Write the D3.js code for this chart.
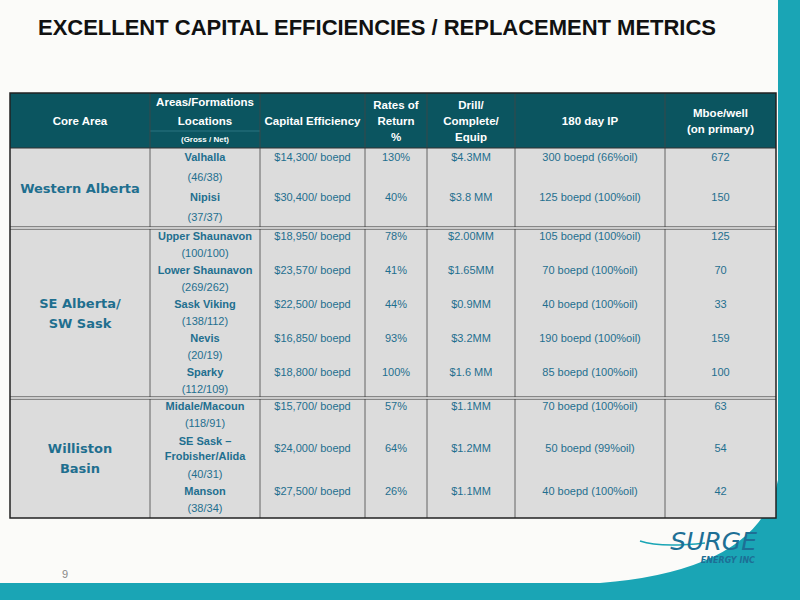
<!DOCTYPE html>
<html><head><meta charset="utf-8">
<script src="https://cdn.jsdelivr.net/npm/d3@7"></script>
<style>body{margin:0;background:#fff}svg{display:block}</style>
</head><body><svg id="c" width="800" height="600"></svg>
<script>
const title = "EXCELLENT CAPITAL EFFICIENCIES / REPLACEMENT METRICS";
const headers = ["Core Area","Areas/Formations","Capital Efficiency","Rates of\nReturn\n%","Drill/\nComplete/\nEquip","180 day IP","Mboe/well\n(on primary)"];
const groups = ["Western Alberta","SE Alberta/\nSW Sask","Williston\nBasin"];
const formations = ["Valhalla","Nipisi","Upper Shaunavon","Lower Shaunavon","Sask Viking","Nevis","Sparky","Midale/Macoun","SE Sask –\nFrobisher/Alida","Manson"];
const formGroup = [0,0,1,1,1,1,1,2,2,2];
const locations = ["(46/38)","(37/37)","(100/100)","(269/262)","(138/112)","(20/19)","(112/109)","(118/91)","(40/31)","(38/34)"];
const capEff = ["$14,300/ boepd","$30,400/ boepd","$18,950/ boepd","$23,570/ boepd","$22,500/ boepd","$16,850/ boepd","$18,800/ boepd","$15,700/ boepd","$24,000/ boepd","$27,500/ boepd"];
const ror = ["130%","40%","78%","41%","44%","93%","100%","57%","64%","26%"];
const dce = ["$4.3MM","$3.8 MM","$2.00MM","$1.65MM","$0.9MM","$3.2MM","$1.6 MM","$1.1MM","$1.2MM","$1.1MM"];
const ip = ["300 boepd (66%oil)","125 boepd (100%oil)","105 boepd (100%oil)","70 boepd (100%oil)","40 boepd (100%oil)","190 boepd (100%oil)","85 boepd (100%oil)","70 boepd (100%oil)","50 boepd (99%oil)","40 boepd (100%oil)"];
const mboe = [672,150,125,70,33,159,100,63,54,42];
// line slots per group (formation line start, line count, location line)
const formLine = [0,2,0,2,4,6,8,0,2,5];
const formSpan = [1,1,1,1,1,1,1,1,2,1];
const locLine = [1,3,1,3,5,7,9,1,4,6];
const groupLines = [4,10,7];

const svg = d3.select("#c");
const teal="#0b5560", txt="#1f6f8f", bright="#1aa5b5";
svg.append("rect").attr("width",800).attr("height",600).attr("fill","#fbfbf9");
svg.append("path").attr("d","M778,0 L800,0 L800,583 L600,583 Q760,570 778,480 Z").attr("fill",bright);
svg.append("rect").attr("x",0).attr("y",583).attr("width",800).attr("height",17).attr("fill",bright);
svg.append("text").attr("x",377).attr("y",35).attr("text-anchor","middle").attr("font-family","Liberation Sans, Arial").attr("font-weight","bold").attr("font-size",22).attr("textLength",678).attr("fill","#111").text(title);
svg.append("text").attr("x",62).attr("y",578).attr("font-family","Liberation Sans").attr("font-size",11).attr("fill","#888").text("9");

const colEdges=[10,150,260,365,427,515,665,776];
const cx = i => (colEdges[i]+colEdges[i+1])/2;
const hTop=93, hBot=148;
const gEdges=[148,228,398,518];
const F="Liberation Sans, Arial, sans-serif";

svg.append("rect").attr("x",10).attr("y",hBot).attr("width",766).attr("height",518-hBot).attr("fill","#dcdcdc");
svg.append("rect").attr("x",10).attr("y",hTop).attr("width",766).attr("height",hBot-hTop).attr("fill",teal);
headers.forEach((h,i)=>{
  const lines=h.split("\n");
  const t=svg.append("text").attr("text-anchor","middle").attr("font-family",F).attr("font-weight","bold").attr("font-size",11.5).attr("fill","#fff");
  if(i===1){
    t.attr("x",cx(1)).attr("y",106).text("Areas/Formations");
    svg.append("text").attr("x",cx(1)).attr("y",125).attr("text-anchor","middle").attr("font-family",F).attr("font-weight","bold").attr("font-size",11.5).attr("fill","#fff").text("Locations");
    svg.append("text").attr("x",cx(1)).attr("y",142).attr("text-anchor","middle").attr("font-family",F).attr("font-weight","bold").attr("font-size",8).attr("fill","#fff").text("(Gross / Net)");
    svg.append("line").attr("x1",150).attr("x2",260).attr("y1",131).attr("y2",131).attr("stroke","#2a7580");
    return;
  }
  const y0=(hTop+hBot)/2-(lines.length-1)*8+4;
  lines.forEach((l,k)=>t.append("tspan").attr("x",cx(i)).attr("y",y0+k*16).text(l));
});

groups.forEach((g,gi)=>{
  const y=d3.scaleLinear().domain([0,groupLines[gi]]).range([gEdges[gi],gEdges[gi+1]]);
  const lines=g.split("\n");
  const mid=(gEdges[gi]+gEdges[gi+1])/2;
  const t=svg.append("text").attr("text-anchor","middle").attr("font-family","DejaVu Sans, sans-serif").attr("font-weight","bold").attr("font-size",13).attr("fill",txt);
  lines.forEach((l,k)=>t.append("tspan").attr("x",cx(0)).attr("y",mid+5-(lines.length-1)*10+k*20).text(l));
  formations.forEach((f,fi)=>{
    if(formGroup[fi]!==gi) return;
    const yc=y(formLine[fi]+formSpan[fi]/2)+3;
    const fl=f.split("\n");
    const ft=svg.append("text").attr("text-anchor","middle").attr("font-family",F).attr("font-weight","bold").attr("font-size",11).attr("fill",txt);
    fl.forEach((l,k)=>ft.append("tspan").attr("x",cx(1)).attr("y",yc+(k-(fl.length-1)/2)*15).text(l));
    svg.append("text").attr("x",cx(1)).attr("y",y(locLine[fi]+0.5)+3).attr("text-anchor","middle").attr("font-family",F).attr("font-size",11).attr("fill",txt).text(locations[fi]);
    [capEff[fi],ror[fi],dce[fi],ip[fi],mboe[fi]].forEach((v,vi)=>{
      svg.append("text").attr("x",cx(vi+2)).attr("y",yc).attr("text-anchor","middle").attr("font-family",F).attr("font-size",11).attr("fill",txt).text(v);
    });
  });
});
colEdges.slice(1,-1).forEach(e=>svg.append("line").attr("x1",e).attr("x2",e).attr("y1",hTop).attr("y2",518).attr("stroke","#444").attr("stroke-width",0.8));
svg.append("line").attr("x1",10).attr("x2",776).attr("y1",hBot).attr("y2",hBot).attr("stroke","#333");
[228,398].forEach(e=>{
  svg.append("line").attr("x1",10).attr("x2",776).attr("y1",e).attr("y2",e).attr("stroke","#333").attr("stroke-width",3);
  svg.append("line").attr("x1",10).attr("x2",776).attr("y1",e).attr("y2",e).attr("stroke","#fff").attr("stroke-width",1.5);
});
svg.append("rect").attr("x",10).attr("y",hTop).attr("width",766).attr("height",518-hTop).attr("fill","none").attr("stroke","#222").attr("stroke-width",1.5);

svg.append("path").attr("d","M640,541 Q660,548 705,543").attr("fill","none").attr("stroke",bright).attr("stroke-width",1.5);
svg.append("text").attr("x",757).attr("y",550).attr("text-anchor","end").attr("font-family","DejaVu Sans").attr("font-style","italic").attr("font-size",25).attr("fill","#1d6f95").text("SURGE");
svg.append("text").attr("x",755).attr("y",563).attr("text-anchor","end").attr("font-family","DejaVu Sans").attr("font-style","italic").attr("font-weight","bold").attr("font-size",8).attr("fill","#1d6f95").text("ENERGY INC");
</script></body></html>
